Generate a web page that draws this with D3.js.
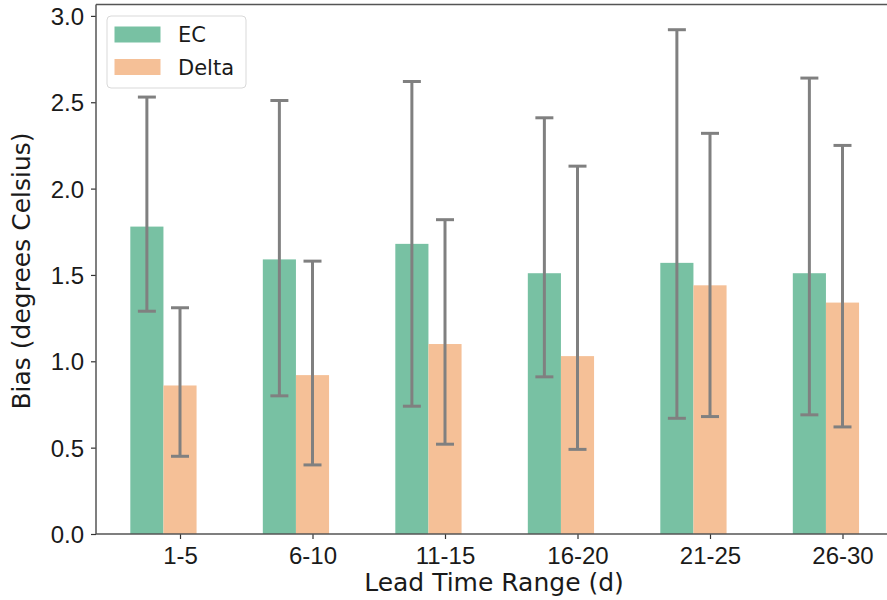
<!DOCTYPE html>
<html>
<head>
<meta charset="utf-8">
<script src="https://cdn.jsdelivr.net/npm/d3@7"></script>
<style>
  body { margin: 0; background: #fff; }
  svg { font-family: "DejaVu Sans", sans-serif; display: block; }
</style>
</head>
<body>
<div id="chart"></div>
<script>
// dados
const categories = ["1-5", "6-10", "11-15", "16-20", "21-25", "26-30"];
const ecMean = [1.78, 1.59, 1.68, 1.51, 1.57, 1.51];
const ecLow = [1.29, 0.80, 0.74, 0.91, 0.67, 0.69];
const ecHigh = [2.53, 2.51, 2.62, 2.41, 2.92, 2.64];
const deltaMean = [0.86, 0.92, 1.10, 1.03, 1.44, 1.34];
const deltaLow = [0.45, 0.40, 0.52, 0.49, 0.68, 0.62];
const deltaHigh = [1.31, 1.58, 1.82, 2.13, 2.32, 2.25];
const yTicks = [0, 0.5, 1.0, 1.5, 2.0, 2.5, 3.0];

const colorMap = { ec: "#78c1a3", delta: "#f5c097" };
const labelMap = { ec: "EC", delta: "Delta" };

const W = 887, H = 600;
const svg = d3.select("#chart").append("svg")
    .attr("width", W)
    .attr("height", H);

// escalas
const x = d3.scaleLinear().domain([-0.634, 5.4]).range([96, 895.5]);
const y = d3.scaleLinear().domain([0, 3.066]).range([534, 4.5]);
const barW = 0.25;

const series = [
    { key: "ec", mean: ecMean, low: ecLow, high: ecHigh, offset: -0.25 },
    { key: "delta", mean: deltaMean, low: deltaLow, high: deltaHigh, offset: 0 }
];

// barras
series.forEach(s => {
    svg.append("g").selectAll("rect")
        .data(categories)
        .enter().append("rect")
        .attr("x", (d, i) => x(i + s.offset - barW / 2))
        .attr("width", x(barW) - x(0))
        .attr("y", (d, i) => y(s.mean[i]))
        .attr("height", (d, i) => y(0) - y(s.mean[i]))
        .attr("fill", colorMap[s.key]);
});

// barras de erro
series.forEach(s => {
    const g = svg.append("g")
        .attr("stroke", "#808080")
        .attr("stroke-width", 3);
    categories.forEach((c, i) => {
        const cx = x(i + s.offset);
        g.append("line")
            .attr("x1", cx).attr("x2", cx)
            .attr("y1", y(s.low[i])).attr("y2", y(s.high[i]));
        [s.low[i], s.high[i]].forEach(v => {
            g.append("line")
                .attr("x1", cx - 9).attr("x2", cx + 9)
                .attr("y1", y(v)).attr("y2", y(v));
        });
    });
});

// eixos
const xAxis = svg.append("g")
    .attr("transform", `translate(0, ${y(0)})`)
    .call(d3.axisBottom(x)
        .tickValues(d3.range(categories.length))
        .tickFormat(i => categories[i])
        .tickSize(5)
        .tickPadding(6));

const yAxis = svg.append("g")
    .attr("transform", `translate(${x.range()[0]}, 0)`)
    .call(d3.axisLeft(y)
        .tickValues(yTicks)
        .tickFormat(d3.format(".1f"))
        .tickSize(5)
        .tickPadding(7));

[xAxis, yAxis].forEach(a => {
    a.select(".domain").remove();
    a.selectAll(".tick line").attr("stroke", "#333").attr("stroke-width", 1.2);
    a.selectAll(".tick text")
        .attr("fill", "#1a1a1a")
        .style("font-size", "24px");
});
xAxis.selectAll(".tick text").attr("dy", "0.8em");
yAxis.selectAll(".tick text").attr("dy", "0.36em");

// moldura
const spine = { stroke: "#555", width: 1.5 };
[[x.range()[0], y(0), x.range()[1], y(0)],
 [x.range()[0], y.range()[1], x.range()[1], y.range()[1]],
 [x.range()[0], y(0), x.range()[0], y.range()[1]]].forEach(p => {
    svg.append("line")
        .attr("x1", p[0]).attr("y1", p[1])
        .attr("x2", p[2]).attr("y2", p[3])
        .attr("stroke", spine.stroke)
        .attr("stroke-width", spine.width);
});

// rótulos dos eixos
svg.append("text")
    .attr("x", 494)
    .attr("y", 591)
    .attr("text-anchor", "middle")
    .attr("fill", "#1a1a1a")
    .style("font-size", "25px")
    .text("Lead Time Range (d)");

svg.append("text")
    .attr("transform", "translate(30, 271) rotate(-90)")
    .attr("text-anchor", "middle")
    .attr("fill", "#1a1a1a")
    .style("font-size", "25px")
    .text("Bias (degrees Celsius)");

// legenda
const legend = svg.append("g").attr("transform", "translate(107, 16)");
legend.append("rect")
    .attr("width", 139)
    .attr("height", 72)
    .attr("rx", 4)
    .attr("fill", "#fff")
    .attr("fill-opacity", 0.8)
    .attr("stroke", "#d9d9d9");

series.forEach((s, i) => {
    legend.append("rect")
        .attr("x", 7.5)
        .attr("y", 10.5 + i * 32.5)
        .attr("width", 46)
        .attr("height", 16)
        .attr("fill", colorMap[s.key]);
    legend.append("text")
        .attr("x", 71)
        .attr("y", 18.5 + i * 32.5)
        .attr("dy", "0.36em")
        .attr("fill", "#1a1a1a")
        .style("font-size", "21px")
        .text(labelMap[s.key]);
});
</script>
</body>
</html>
